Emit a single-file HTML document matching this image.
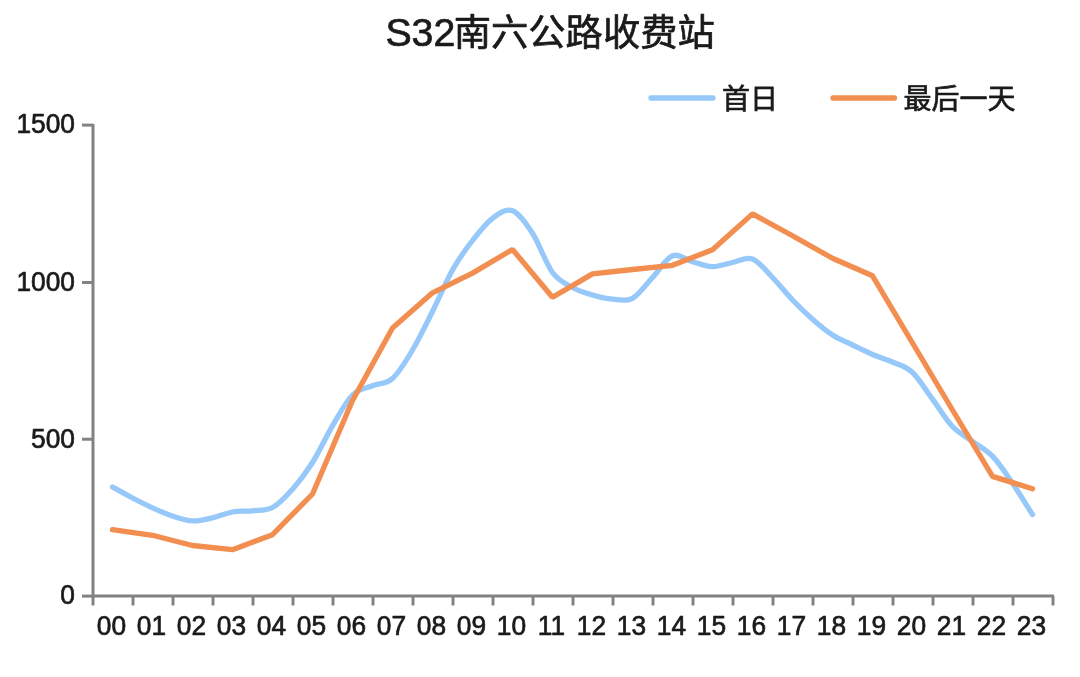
<!DOCTYPE html>
<html lang="zh"><head><meta charset="utf-8"><title>S32南六公路收费站</title>
<style>html,body{margin:0;padding:0;background:#fff}svg{display:block;filter:blur(0.55px)}text{font-family:"Liberation Sans","Noto Sans CJK SC",sans-serif;fill:#1a1a1a;stroke:#1a1a1a;stroke-width:0.7px;stroke-linejoin:round}</style></head><body>
<svg width="1080" height="677" viewBox="0 0 1080 677">
<rect width="1080" height="677" fill="#fff"/>
<text x="550.1" y="45.7" font-size="37.3" text-anchor="middle"><tspan font-size="39.3">S32</tspan><tspan dx="-1.6">南六公路收费站</tspan></text>
<line x1="651" y1="98" x2="713" y2="98" stroke="#96c8fa" stroke-width="5.3" stroke-linecap="round"/>
<text x="722" y="109" font-size="28">首日</text>
<line x1="833" y1="98" x2="894.5" y2="98" stroke="#f28e50" stroke-width="5.3" stroke-linecap="round"/>
<text x="903.5" y="109" font-size="28">最后一天</text>
<g stroke="#828282" stroke-width="3" fill="none">
<line x1="93" y1="124" x2="93" y2="597"/>
<line x1="92" y1="596" x2="1054" y2="596"/>
<line x1="82" y1="596.1" x2="93" y2="596.1"/>
<line x1="82" y1="439.2" x2="93" y2="439.2"/>
<line x1="82" y1="282.5" x2="93" y2="282.5"/>
<line x1="82" y1="125.1" x2="93" y2="125.1"/>
<line x1="93" y1="596" x2="93" y2="605.5"/>
<line x1="133" y1="596" x2="133" y2="605.5"/>
<line x1="173" y1="596" x2="173" y2="605.5"/>
<line x1="213" y1="596" x2="213" y2="605.5"/>
<line x1="253" y1="596" x2="253" y2="605.5"/>
<line x1="293" y1="596" x2="293" y2="605.5"/>
<line x1="333" y1="596" x2="333" y2="605.5"/>
<line x1="373" y1="596" x2="373" y2="605.5"/>
<line x1="413" y1="596" x2="413" y2="605.5"/>
<line x1="453" y1="596" x2="453" y2="605.5"/>
<line x1="493" y1="596" x2="493" y2="605.5"/>
<line x1="533" y1="596" x2="533" y2="605.5"/>
<line x1="573" y1="596" x2="573" y2="605.5"/>
<line x1="613" y1="596" x2="613" y2="605.5"/>
<line x1="653" y1="596" x2="653" y2="605.5"/>
<line x1="693" y1="596" x2="693" y2="605.5"/>
<line x1="733" y1="596" x2="733" y2="605.5"/>
<line x1="773" y1="596" x2="773" y2="605.5"/>
<line x1="813" y1="596" x2="813" y2="605.5"/>
<line x1="853" y1="596" x2="853" y2="605.5"/>
<line x1="893" y1="596" x2="893" y2="605.5"/>
<line x1="933" y1="596" x2="933" y2="605.5"/>
<line x1="973" y1="596" x2="973" y2="605.5"/>
<line x1="1013" y1="596" x2="1013" y2="605.5"/>
<line x1="1053" y1="596" x2="1053" y2="605.5"/>
</g>
<text transform="translate(75,604.4) scale(0.94,1)" font-size="28" text-anchor="end">0</text>
<text transform="translate(75,447.5) scale(0.94,1)" font-size="28" text-anchor="end">500</text>
<text transform="translate(75,290.8) scale(0.94,1)" font-size="28" text-anchor="end">1000</text>
<text transform="translate(75,133.4) scale(0.94,1)" font-size="28" text-anchor="end">1500</text>
<text transform="translate(111.5,635.3) scale(0.94,1)" font-size="28" text-anchor="middle">00</text>
<text transform="translate(151.5,635.3) scale(0.94,1)" font-size="28" text-anchor="middle">01</text>
<text transform="translate(191.5,635.3) scale(0.94,1)" font-size="28" text-anchor="middle">02</text>
<text transform="translate(231.5,635.3) scale(0.94,1)" font-size="28" text-anchor="middle">03</text>
<text transform="translate(271.5,635.3) scale(0.94,1)" font-size="28" text-anchor="middle">04</text>
<text transform="translate(311.5,635.3) scale(0.94,1)" font-size="28" text-anchor="middle">05</text>
<text transform="translate(351.5,635.3) scale(0.94,1)" font-size="28" text-anchor="middle">06</text>
<text transform="translate(391.5,635.3) scale(0.94,1)" font-size="28" text-anchor="middle">07</text>
<text transform="translate(431.5,635.3) scale(0.94,1)" font-size="28" text-anchor="middle">08</text>
<text transform="translate(471.5,635.3) scale(0.94,1)" font-size="28" text-anchor="middle">09</text>
<text transform="translate(511.5,635.3) scale(0.94,1)" font-size="28" text-anchor="middle">10</text>
<text transform="translate(551.5,635.3) scale(0.94,1)" font-size="28" text-anchor="middle">11</text>
<text transform="translate(591.5,635.3) scale(0.94,1)" font-size="28" text-anchor="middle">12</text>
<text transform="translate(631.5,635.3) scale(0.94,1)" font-size="28" text-anchor="middle">13</text>
<text transform="translate(671.5,635.3) scale(0.94,1)" font-size="28" text-anchor="middle">14</text>
<text transform="translate(711.5,635.3) scale(0.94,1)" font-size="28" text-anchor="middle">15</text>
<text transform="translate(751.5,635.3) scale(0.94,1)" font-size="28" text-anchor="middle">16</text>
<text transform="translate(791.5,635.3) scale(0.94,1)" font-size="28" text-anchor="middle">17</text>
<text transform="translate(831.5,635.3) scale(0.94,1)" font-size="28" text-anchor="middle">18</text>
<text transform="translate(871.5,635.3) scale(0.94,1)" font-size="28" text-anchor="middle">19</text>
<text transform="translate(911.5,635.3) scale(0.94,1)" font-size="28" text-anchor="middle">20</text>
<text transform="translate(951.5,635.3) scale(0.94,1)" font-size="28" text-anchor="middle">21</text>
<text transform="translate(991.5,635.3) scale(0.94,1)" font-size="28" text-anchor="middle">22</text>
<text transform="translate(1031.5,635.3) scale(0.94,1)" font-size="28" text-anchor="middle">23</text>
<path d="M112.50 487.00 C115.83 488.83 125.83 494.53 132.50 498.00 C139.17 501.47 145.83 504.80 152.50 507.80 C159.17 510.80 165.83 513.82 172.50 516.00 C179.17 518.18 185.83 520.60 192.50 520.90 C199.17 521.20 205.83 519.28 212.50 517.80 C219.17 516.32 225.83 513.17 232.50 512.00 C239.17 510.83 245.83 511.55 252.50 510.80 C259.17 510.05 265.83 511.10 272.50 507.50 C279.17 503.90 285.83 496.70 292.50 489.20 C299.17 481.70 305.83 473.07 312.50 462.50 C319.17 451.93 325.83 437.05 332.50 425.80 C339.17 414.55 345.83 401.67 352.50 395.00 C359.17 388.33 365.83 388.55 372.50 385.80 C379.17 383.05 385.83 384.47 392.50 378.50 C399.17 372.53 405.83 361.17 412.50 350.00 C419.17 338.83 425.83 324.83 432.50 311.50 C439.17 298.17 445.83 281.83 452.50 270.00 C459.17 258.17 465.83 249.12 472.50 240.50 C479.17 231.88 485.83 223.25 492.50 218.30 C499.17 213.35 505.83 208.30 512.50 210.80 C519.17 213.30 525.83 223.02 532.50 233.30 C539.17 243.58 545.83 263.47 552.50 272.50 C559.17 281.53 565.83 283.75 572.50 287.50 C579.17 291.25 585.83 293.05 592.50 295.00 C599.17 296.95 605.83 298.65 612.50 299.20 C619.17 299.75 625.83 301.92 632.50 298.30 C639.17 294.68 645.83 284.58 652.50 277.50 C659.17 270.42 665.83 258.43 672.50 255.80 C679.17 253.17 685.83 259.88 692.50 261.70 C699.17 263.52 705.83 266.57 712.50 266.70 C719.17 266.83 725.83 263.78 732.50 262.50 C739.17 261.22 745.83 256.50 752.50 259.00 C759.17 261.50 765.83 270.67 772.50 277.50 C779.17 284.33 785.83 293.05 792.50 300.00 C799.17 306.95 805.83 313.37 812.50 319.20 C819.17 325.03 825.83 330.70 832.50 335.00 C839.17 339.30 845.83 341.75 852.50 345.00 C859.17 348.25 865.83 351.67 872.50 354.50 C879.17 357.33 885.83 359.00 892.50 362.00 C899.17 365.00 905.83 366.30 912.50 372.50 C919.17 378.70 925.83 390.20 932.50 399.20 C939.17 408.20 945.83 419.47 952.50 426.50 C959.17 433.53 965.83 436.45 972.50 441.40 C979.17 446.35 985.83 449.23 992.50 456.20 C999.17 463.17 1005.83 473.48 1012.50 483.20 C1019.17 492.92 1029.17 509.28 1032.50 514.50" fill="none" stroke="#96c8fa" stroke-width="5.3" stroke-linecap="round" stroke-linejoin="round"/>
<path d="M112.50 529.70 L152.50 535.30 L192.50 545.50 L232.50 549.70 L272.50 534.70 L312.50 494.00 L352.50 400.50 L392.50 328.00 L432.50 292.80 L472.50 273.10 L512.50 249.50 L552.50 297.20 L592.50 273.90 L632.50 269.50 L672.50 265.30 L712.50 249.80 L752.50 213.90 L792.50 235.80 L832.50 258.30 L872.50 275.80 L912.50 343.00 L952.50 410.00 L992.50 476.40 L1032.50 488.70" fill="none" stroke="#f28e50" stroke-width="5.3" stroke-linecap="round" stroke-linejoin="bevel"/>
</svg></body></html>
